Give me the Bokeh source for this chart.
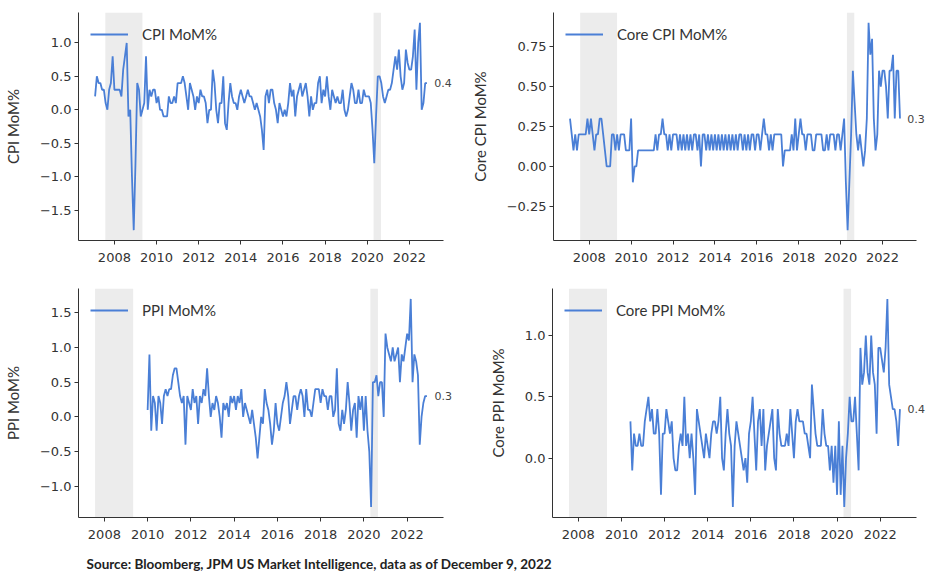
from bokeh.plotting import figure
from bokeh.layouts import column, row
from bokeh.models import Range1d, FixedTicker, BoxAnnotation, Label, Legend, LegendItem
from bokeh.embed import file_html
from bokeh.resources import INLINE

# ---------------- data (monthly MoM %) ----------------
cpi_start = (2007, 1)
cpi = [
    0.2, 0.5, 0.4, 0.4, 0.3, 0.3, 0.1, 0.0, 0.3, 0.4, 0.8, 0.3,
    0.3, 0.3, 0.3, 0.2, 0.6, 0.8, 1.0, -0.1, 0.0, -1.0, -1.8, -0.8,
    0.4, 0.3, -0.1, 0.0, 0.1, 0.8, 0.0, 0.3, 0.2, 0.3, 0.3, 0.1,
    0.2, 0.0, 0.0, -0.1, -0.1, -0.1, 0.2, 0.1, 0.1, 0.2, 0.1, 0.4,
    0.4, 0.4, 0.5, 0.4, 0.2, 0.0, 0.4, 0.3, 0.2, 0.0, 0.2, 0.1,
    0.3, 0.2, 0.2, 0.1, -0.2, 0.0, 0.0, 0.6, 0.4, 0.0, -0.2, 0.1,
    0.1, 0.5, -0.2, -0.3, 0.1, 0.4, 0.2, 0.1, 0.1, 0.0, 0.2, 0.3,
    0.2, 0.1, 0.2, 0.3, 0.2, 0.2, 0.1, 0.0, 0.1, 0.0, -0.1, -0.3,
    -0.6, 0.2, 0.3, 0.1, 0.3, 0.3, 0.1, 0.0, -0.2, 0.1, 0.0, -0.1,
    0.0, -0.1, 0.1, 0.4, 0.2, 0.3, -0.1, 0.2, 0.3, 0.4, 0.2, 0.3,
    0.4, 0.2, -0.1, 0.2, 0.0, 0.1, 0.1, 0.4, 0.5, 0.1, 0.3, 0.2,
    0.5, 0.2, 0.0, 0.3, 0.2, 0.1, 0.2, 0.1, 0.1, 0.3, 0.0, -0.1,
    0.0, 0.2, 0.4, 0.3, 0.1, 0.1, 0.3, 0.1, 0.1, 0.3, 0.2, 0.2,
    0.2, 0.1, -0.3, -0.8, -0.1, 0.5, 0.5, 0.4, 0.2, 0.1, 0.2, 0.3,
    0.3, 0.4, 0.6, 0.8, 0.6, 0.9, 0.5, 0.3, 0.4, 0.9, 0.7, 0.6,
    0.6, 0.8, 1.2, 0.3, 1.0, 1.3, 0.0, 0.1, 0.4, 0.4,
]

core_cpi_start = (2007, 1)
core_cpi = [
    0.3, 0.2, 0.1, 0.2, 0.1, 0.2, 0.2, 0.2, 0.2, 0.2, 0.3, 0.2,
    0.3, 0.2, 0.1, 0.2, 0.2, 0.3, 0.3, 0.2, 0.1, 0.0, 0.0, 0.0,
    0.2, 0.2, 0.1, 0.2, 0.1, 0.2, 0.2, 0.2, 0.1, 0.1, 0.1, 0.3,
    -0.1, 0.0, 0.0, 0.1, 0.1, 0.1, 0.1, 0.1, 0.1, 0.1, 0.1, 0.1,
    0.1, 0.2, 0.1, 0.2, 0.2, 0.3, 0.2, 0.2, 0.1, 0.2, 0.1, 0.2,
    0.2, 0.2, 0.1, 0.2, 0.1, 0.2, 0.1, 0.2, 0.1, 0.2, 0.1, 0.2,
    0.2, 0.1, 0.2, 0.0, 0.2, 0.2, 0.1, 0.2, 0.1, 0.2, 0.1, 0.2,
    0.1, 0.2, 0.1, 0.2, 0.1, 0.2, 0.1, 0.2, 0.1, 0.2, 0.1, 0.2,
    0.1, 0.2, 0.2, 0.1, 0.2, 0.1, 0.2, 0.1, 0.2, 0.2, 0.1, 0.2,
    0.2, 0.1, 0.2, 0.3, 0.2, 0.2, 0.1, 0.2, 0.1, 0.2, 0.2, 0.2,
    0.2, 0.2, 0.0, 0.1, 0.1, 0.1, 0.1, 0.2, 0.1, 0.3, 0.1, 0.2,
    0.3, 0.2, 0.2, 0.1, 0.2, 0.2, 0.2, 0.1, 0.1, 0.2, 0.2, 0.2,
    0.2, 0.1, 0.1, 0.2, 0.1, 0.2, 0.2, 0.2, 0.1, 0.2, 0.2, 0.1,
    0.2, 0.3, -0.1, -0.4, -0.1, 0.2, 0.6, 0.4, 0.2, 0.1, 0.2, 0.1,
    0.0, 0.1, 0.3, 0.9, 0.7, 0.8, 0.3, 0.1, 0.2, 0.6, 0.5, 0.6,
    0.6, 0.5, 0.3, 0.6, 0.6, 0.7, 0.3, 0.6, 0.6, 0.3,
]

ppi_start = (2009, 12)
ppi = [
    0.1,
    0.9, -0.2, 0.3, 0.2, -0.2, 0.3, 0.2, -0.1, 0.3, 0.4, 0.3, 0.4,
    0.4, 0.6, 0.7, 0.7, 0.5, 0.3, 0.2, 0.3, -0.4, 0.3, 0.2, 0.1,
    0.4, 0.2, 0.3, -0.1, 0.3, 0.2, 0.4, 0.3, 0.7, 0.3, 0.0, 0.2,
    0.1, 0.3, 0.2, 0.0, -0.3, 0.2, 0.1, 0.2, 0.0, 0.3, 0.2, 0.3,
    0.1, 0.3, 0.2, 0.4, 0.0, 0.2, 0.1, 0.0, -0.1, 0.1, -0.1, -0.3,
    -0.6, -0.3, 0.0, -0.1, 0.4, 0.2, 0.1, -0.1, -0.4, -0.2, 0.2, -0.1,
    -0.2, 0.0, 0.2, 0.3, 0.5, 0.3, -0.1, 0.1, 0.3, 0.3, 0.1, 0.3,
    0.4, 0.3, 0.0, 0.4, 0.1, 0.1, 0.0, 0.2, 0.4, 0.4, 0.4, 0.2,
    0.4, 0.3, 0.3, 0.1, 0.3, 0.3, 0.0, 0.1, 0.7, -0.1, -0.2, 0.1,
    -0.1, 0.1, 0.5, 0.2, -0.2, 0.1, 0.2, -0.3, 0.3, 0.1, 0.3, -0.2,
    0.3, -0.2, -0.5, -1.3, 0.5, 0.5, 0.6, 0.3, 0.5, 0.5, 0.0, 1.2,
    1.0, 0.9, 0.8, 1.0, 0.8, 0.9, 1.0, 0.5, 0.9, 0.8, 1.0, 1.2,
    1.1, 1.7, 0.5, 0.9, 0.8, 0.6, -0.4, 0.0, 0.2, 0.3, 0.3,
]

core_ppi_start = (2010, 5)
core_ppi = [
    0.3, -0.1, 0.2, 0.1, 0.1, 0.2, 0.1, 0.1,
    0.3, 0.4, 0.5, 0.3, 0.4, 0.2, 0.2, 0.4, 0.2, -0.3, 0.2, 0.2,
    0.4, 0.3, 0.2, 0.3, 0.0, -0.1, -0.1, 0.1, 0.2, 0.1, 0.5, 0.1,
    0.2, 0.0, 0.2, 0.0, -0.3, 0.4, 0.3, 0.2, 0.1, 0.0, 0.2, 0.1,
    0.0, 0.2, 0.3, 0.3, 0.2, 0.3, 0.5, 0.0, -0.1, 0.2, 0.4, 0.2,
    0.1, -0.4, 0.1, 0.3, 0.2, 0.1, 0.0, -0.1, 0.0, -0.2, 0.2, 0.3,
    0.5, 0.2, -0.1, 0.3, 0.4, 0.1, 0.4, -0.1, 0.1, 0.2, 0.3, 0.4,
    0.0, -0.1, 0.4, 0.2, 0.1, 0.1, 0.1, 0.2, 0.1, 0.4, 0.2, 0.0,
    0.3, 0.4, 0.3, 0.3, 0.3, 0.2, 0.2, 0.1, 0.0, 0.6, 0.4, 0.2,
    0.1, 0.1, 0.1, 0.4, 0.2, 0.1, 0.1, -0.1, 0.1, -0.2, 0.1, -0.3,
    0.3, -0.3, 0.1, -0.4, 0.0, 0.2, 0.5, 0.3, 0.3, 0.5, 0.2, -0.1,
    0.9, 0.6, 0.7, 1.0, 0.7, 0.6, 1.0, 0.7, 0.6, 0.2, 0.9, 0.9,
    0.8, 0.7, 0.9, 1.3, 0.6, 0.5, 0.4, 0.4, 0.3, 0.1, 0.4,
]

# recession shading (decimal years)
rec_start = [2007.57, 2020.30]
rec_end = [2009.33, 2020.65]

x_ticks = [2008, 2010, 2012, 2014, 2016, 2018, 2020, 2022]
cpi_yticks = [-1.5, -1.0, -0.5, 0.0, 0.5, 1.0]
cpi_ylabels = ["\u22121.5", "\u22121.0", "\u22120.5", "0.0", "0.5", "1.0"]
core_cpi_yticks = [-0.25, 0.0, 0.25, 0.5, 0.75]
core_cpi_ylabels = ["\u22120.25", "0.00", "0.25", "0.50", "0.75"]
ppi_yticks = [-1.0, -0.5, 0.0, 0.5, 1.0, 1.5]
ppi_ylabels = ["\u22121.0", "\u22120.5", "0.0", "0.5", "1.0", "1.5"]
core_ppi_yticks = [0.0, 0.5, 1.0]
core_ppi_ylabels = ["0.0", "0.5", "1.0"]

source_text = "Source: Bloomberg, JPM US Market Intelligence, data as of December 9, 2022"

LINE = "#4a7fd6"
SHADE = "#ececec"
TICK_FONT = "DejaVu Sans"
LAB_FONT = "Lato"


def month_end_years(start, n):
    y, m = start
    return [y + (m + i) / 12.0 for i in range(n)]


def panel(start, vals, name, yticks, ylabels, width, height, bl, br, bt, bb):
    xs = month_end_years(start, len(vals))
    lo = min(xs[0], rec_start[0])
    hi = xs[-1]
    xp = (hi - lo) * 0.05
    x0, x1 = lo - xp, hi + xp
    axis_w = width - bl - br
    ppy = axis_w / (x1 - x0)
    x_end = x1 + br / ppy          # frame runs to canvas edge, axis stops at x1
    ymin, ymax = min(vals), max(vals)
    yp = (ymax - ymin) * 0.05
    p = figure(width=width, height=height,
               x_range=Range1d(x0, x_end),
               y_range=Range1d(ymin - yp, ymax + yp),
               output_backend="svg", toolbar_location=None,
               min_border_left=bl, min_border_right=0,
               min_border_top=bt, min_border_bottom=bb)
    p.outline_line_color = None
    p.xgrid.visible = False
    p.ygrid.visible = False
    p.background_fill_color = "white"
    p.border_fill_color = "white"

    for s, e in zip(rec_start, rec_end):
        p.add_layout(BoxAnnotation(left=s, right=e, fill_color=SHADE, fill_alpha=1.0,
                                   line_color=None, level="underlay"))

    r = p.line(xs, vals, line_color=LINE, line_width=1.8)

    for ax in (p.xaxis[0], p.yaxis[0]):
        ax.axis_line_color = "#333333"
        ax.axis_line_width = 1
        ax.major_tick_line_color = "#333333"
        ax.major_tick_in = 0
        ax.major_tick_out = 4
        ax.minor_tick_line_color = None
        ax.major_label_text_font = TICK_FONT
        ax.major_label_text_font_size = "13px"
        ax.major_label_text_color = "#333333"

    p.xaxis.bounds = (x0, x1)
    p.xaxis.ticker = FixedTicker(ticks=x_ticks)
    p.xaxis.major_label_overrides = {t: str(t) for t in x_ticks}
    p.xaxis.major_label_standoff = 8
    p.yaxis.ticker = FixedTicker(ticks=yticks)
    p.yaxis.major_label_overrides = dict(zip(yticks, ylabels))
    p.yaxis.major_label_standoff = 3
    p.yaxis.axis_label = name
    p.yaxis.axis_label_text_font = LAB_FONT
    p.yaxis.axis_label_text_font_size = "15px"
    p.yaxis.axis_label_text_font_style = "normal"
    p.yaxis.axis_label_text_color = "#333333"
    p.yaxis.axis_label_standoff = 15

    leg = Legend(items=[LegendItem(label=name, renderers=[r])], location="top_left",
                 margin=12, padding=6, glyph_width=38, glyph_height=20,
                 label_standoff=14, border_line_color=None,
                 background_fill_alpha=0.0,
                 label_text_font=LAB_FONT, label_text_font_size="15px",
                 label_text_color="#333333")
    p.add_layout(leg)

    p.add_layout(Label(x=xs[-1] + 0.35, y=vals[-1], text=f"{vals[-1]:.1f}",
                       text_baseline="middle", text_align="left",
                       text_font=TICK_FONT, text_font_size="11px",
                       text_color="#444444"))
    return p


p1 = panel(cpi_start, cpi, "CPI MoM%", cpi_yticks, cpi_ylabels, 463, 280, 77, 20, 12, 40)
p2 = panel(core_cpi_start, core_cpi, "Core CPI MoM%", core_cpi_yticks, core_cpi_ylabels, 463, 280, 90, 10, 12, 40)
p3 = panel(ppi_start, ppi, "PPI MoM%", ppi_yticks, ppi_ylabels, 463, 267, 77, 20, 8, 30)
p4 = panel(core_ppi_start, core_ppi, "Core PPI MoM%", core_ppi_yticks, core_ppi_ylabels, 463, 267, 89, 10, 8, 30)

foot = figure(width=926, height=29, x_range=Range1d(0, 926), y_range=Range1d(0, 29),
              output_backend="svg", toolbar_location=None,
              x_axis_location=None, y_axis_location=None,
              min_border_left=0, min_border_right=0, min_border_top=0, min_border_bottom=0)
foot.outline_line_color = None
foot.xgrid.visible = False
foot.ygrid.visible = False
foot.add_layout(Label(x=86, y=13, text=source_text, text_baseline="middle",
                      text_font=LAB_FONT, text_font_size="13.5px", text_font_style="bold",
                      text_color="#222222"))

layout = column(row(p1, p2), row(p3, p4), foot)

open("out.html", "w").write(file_html(layout, INLINE))
